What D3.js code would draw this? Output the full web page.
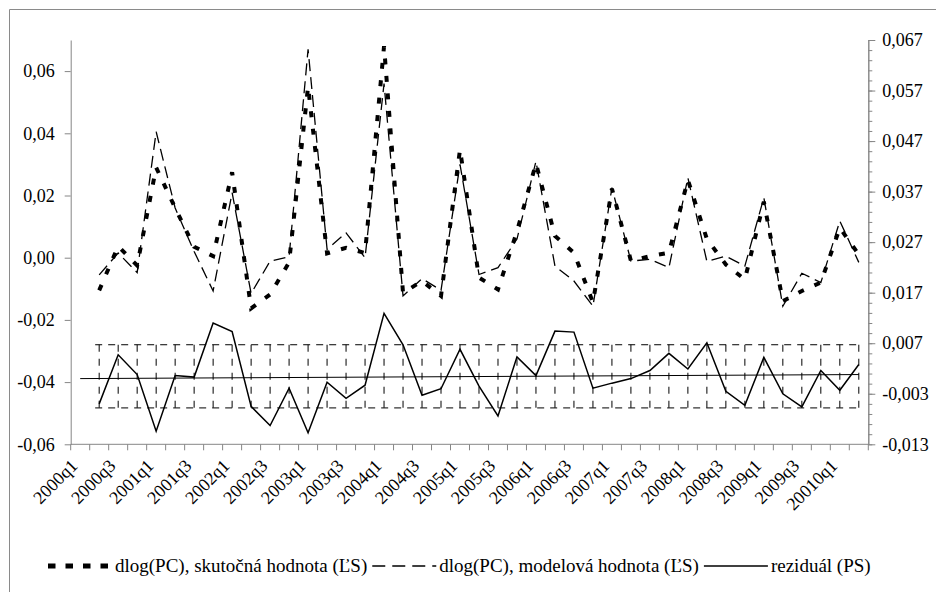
<!DOCTYPE html>
<html><head><meta charset="utf-8">
<script src="https://cdn.jsdelivr.net/npm/d3@7"></script>
<style>
body{margin:0;background:#fff}
svg{display:block}
</style>
</head><body>
<svg id="c" width="936" height="592"></svg>
<script>
const categories = [
 "2000q1","2000q2","2000q3","2000q4","2001q1","2001q2","2001q3","2001q4",
 "2002q1","2002q2","2002q3","2002q4","2003q1","2003q2","2003q3","2003q4",
 "2004q1","2004q2","2004q3","2004q4","2005q1","2005q2","2005q3","2005q4",
 "2006q1","2006q2","2006q3","2006q4","2007q1","2007q2","2007q3","2007q4",
 "2008q1","2008q2","2008q3","2008q4","2009q1","2009q2","2009q3","2009q4",
 "2010q1","2010q2"];

// dlog(PC), skutočná hodnota (left axis)
const actual = [null,
 -0.0105, 0.0037,-0.0025, 0.0290, 0.0160, 0.0035, 0.0005, 0.0275,-0.0163,
 -0.0118,-0.0015, 0.0550, 0.0014, 0.0032, 0.0015, 0.0680,-0.0113,-0.0075,
 -0.0123, 0.0348,-0.0064,-0.0102, 0.0085, 0.0303, 0.0070, 0.0016,-0.0144,
  0.0222,-0.0010, 0.0005, 0.0016, 0.0250, 0.0060,-0.0022,-0.0070, 0.0180,
 -0.0140,-0.0107,-0.0080, 0.0096, 0.0010];

// dlog(PC), modelová hodnota (left axis)
const model = [null,
 -0.0055, 0.0015,-0.0048, 0.0405, 0.0160, 0.0020,-0.0107, 0.0209,-0.0115,
 -0.0011, 0.0003, 0.0670, 0.0027, 0.0080, 0.0000, 0.0560,-0.0123,-0.0067,
 -0.0105, 0.0300,-0.0054,-0.0032, 0.0060, 0.0310,-0.0027,-0.0075,-0.0156,
  0.0225,-0.0011,-0.0005,-0.0032, 0.0257,-0.0012, 0.0005,-0.0027, 0.0193,
 -0.0156,-0.0050,-0.0080, 0.0118,-0.0015];

// reziduál (right axis)
const residual = [null,
 -0.0050, 0.0047, 0.0008,-0.0104, 0.0006, 0.0003, 0.0110, 0.0093,-0.0055,
 -0.0093,-0.0019,-0.0107,-0.0007,-0.0039,-0.0013, 0.0129, 0.0067,-0.0033,
 -0.0020, 0.0058,-0.0015,-0.0074, 0.0043, 0.0006, 0.0094, 0.0092,-0.0019,
 -0.0009, 0.0000, 0.0016, 0.0050, 0.0019, 0.0071,-0.0025,-0.0053, 0.0042,
 -0.0030,-0.0056, 0.0016,-0.0023, 0.0028];

const bandUpper = 0.0067;
const bandLower = -0.0058;
const trendValues = [0.0000, 0.0008];

const leftTicks = [-0.06,-0.04,-0.02,0,0.02,0.04,0.06];
const leftDomain = [-0.06, 0.07];
const rightTicks = [-0.013,-0.003,0.007,0.017,0.027,0.037,0.047,0.057,0.067];
const rightDomain = [-0.013, 0.067];
const rightMinorStep = 0.002;

const labelCats = categories.filter((d,i)=>i%2===0);
const labelTexts = ["2000q1","2000q3","2001q1","2001q3","2002q1","2002q3","2003q1",
 "2003q3","2004q1","2004q3","2005q1","2005q3","2006q1","2006q3","2007q1","2007q3",
 "2008q1","2008q3","2009q1","2009q3","20010q1"];

const legendItems = [
 {label:"dlog(PC), skutočná hodnota (ĽS)", kind:"actual"},
 {label:"dlog(PC), modelová hodnota (ĽS)", kind:"model"},
 {label:"reziduál (PS)", kind:"resid"}];

const styles = {
 actual:{w:4,dash:"6,11.5"},
 model:{w:1.3,dash:"12,6"},
 resid:{w:1.5,dash:null}
};

const FONT = "Liberation Serif";
const loc = d3.formatLocale({decimal:",",thousands:" ",grouping:[3],currency:["",""],minus:"-"});
const fL = loc.format(".2f"), fR = loc.format(".3f");

const svg = d3.select("#c");
svg.append("rect").attr("width",936).attr("height",592).attr("fill","#fff");
svg.append("path").attr("d","M9.5,592V9.5H936").attr("fill","none").attr("stroke","#8a8a8a").attr("stroke-width",1);

const x = d3.scaleBand().domain(categories).range([70.7,868.3]).paddingInner(0).paddingOuter(0);
const cx = c => x(c) + x.bandwidth()/2;
const yL = d3.scaleLinear().domain(leftDomain).range([444.3,40]);
const yR = d3.scaleLinear().domain(rightDomain).range([444.3,40]);
const gray = "#868686";

// left axis
svg.append("g").attr("transform","translate(70.7,0)")
  .call(d3.axisLeft(yL).tickValues(leftTicks).tickFormat(fL).tickSize(6).tickPadding(10).tickSizeOuter(0));
// right axis minor
const minorVals = d3.range(rightDomain[0], rightDomain[1]+1e-9, rightMinorStep);
svg.append("g").attr("transform","translate(868.3,0)")
  .call(d3.axisRight(yR).tickValues(minorVals).tickFormat("").tickSize(4).tickSizeOuter(0));
svg.append("g").attr("transform","translate(868.3,0)")
  .call(d3.axisRight(yR).tickValues(rightTicks).tickFormat(fR).tickSize(7).tickPadding(7).tickSizeOuter(0));
// x axis
const gX = svg.append("g").attr("transform","translate(0,444.3)");
gX.append("line").attr("x1",70.7).attr("x2",868.3).attr("stroke",gray);
gX.selectAll("line.t").data(categories.concat(["__end"])).join("line").attr("class","t")
  .attr("x1",(d,i)=> i<categories.length ? x(d) : 868.3)
  .attr("x2",(d,i)=> i<categories.length ? x(d) : 868.3)
  .attr("y1",0).attr("y2",6).attr("stroke",gray);
gX.selectAll("text").data(labelCats).join("text")
  .attr("transform",d=>`translate(${cx(d)-6},18) rotate(-45)`)
  .attr("text-anchor","end").attr("dy","0.35em").attr("font-size",18)
  .text((d,i)=>labelTexts[i]);

svg.selectAll(".domain").attr("stroke",gray);
svg.selectAll(".tick line").attr("stroke",gray);
svg.selectAll(".tick text").attr("font-size",18);

// bands & high-low lines
const firstC = categories[1], lastC = categories[categories.length-1];
[bandUpper,bandLower].forEach(v=>{
  svg.append("line").attr("x1",cx(firstC)-4).attr("x2",cx(lastC)+2)
    .attr("y1",yR(v)).attr("y2",yR(v)).attr("stroke","#000").attr("stroke-width",1)
    .attr("stroke-dasharray","7,6");
});
svg.append("g").selectAll("line").data(categories.slice(1)).join("line")
  .attr("x1",d=>cx(d)).attr("x2",d=>cx(d))
  .attr("y1",yR(bandUpper)).attr("y2",yR(bandLower))
  .attr("stroke","#000").attr("stroke-width",1).attr("stroke-dasharray","7,7");

// trend line
svg.append("line").attr("x1",cx(categories[0])).attr("x2",cx(lastC))
  .attr("y1",yR(trendValues[0])).attr("y2",yR(trendValues[1]))
  .attr("stroke","#000").attr("stroke-width",1);

function drawLine(vals, y, st){
  const line = d3.line().defined(d=>d.v!=null).x(d=>cx(d.c)).y(d=>y(d.v));
  const data = categories.map((c,i)=>({c, v:vals[i]}));
  const p = svg.append("path").datum(data).attr("d",line).attr("fill","none")
    .attr("stroke","#000").attr("stroke-width",st.w).attr("stroke-linejoin","miter");
  if(st.dash) p.attr("stroke-dasharray",st.dash);
}
drawLine(residual, yR, styles.resid);
drawLine(model, yL, styles.model);
drawLine(actual, yL, styles.actual);

// apply serif font to all axis text
svg.selectAll("text").style("font-family",FONT).style("fill","#000");

// legend
const lg = svg.append("g");
let lx = 48; const ly = 566;
legendItems.forEach(it=>{
  const st = styles[it.kind];
  const l = lg.append("line").attr("x1",lx).attr("x2",lx+64).attr("y1",ly).attr("y2",ly)
    .attr("stroke","#000").attr("stroke-width", it.kind==="actual"?5:st.w);
  if(it.kind==="actual") l.attr("stroke-dasharray","7.5,10");
  else if(st.dash) l.attr("stroke-dasharray","13,7");
  const t = lg.append("text").attr("x",lx+67).attr("y",ly).attr("dy","0.33em")
    .attr("font-size",19).style("font-family",FONT).style("fill","#000").text(it.label);
  lx = lx + 67 + t.node().getComputedTextLength() + 5;
});
</script>
</body></html>
